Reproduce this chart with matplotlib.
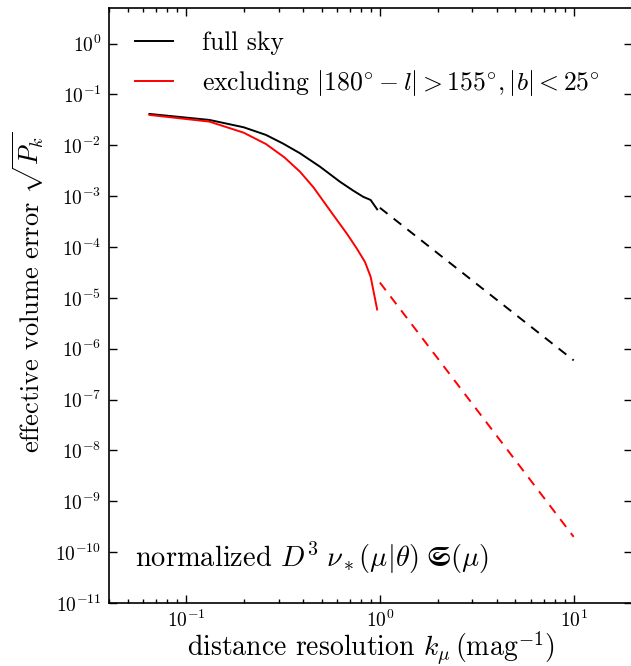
import matplotlib
matplotlib.use("Agg")
import matplotlib.pyplot as plt
import numpy as np

# full sky, solid part (k_mu < 1)
k_full = [0.0647, 0.1318, 0.198, 0.258, 0.315, 0.387, 0.491, 0.622, 0.729,
          0.820, 0.896, 0.968]
p_full = [0.0413, 0.0315, 0.0226, 0.0160, 0.0109, 0.00696, 0.00379, 0.00192,
          0.00128, 0.00097, 0.00084, 0.00055]

# excluding the plane, solid part
k_cut = [0.0647, 0.1318, 0.198, 0.258, 0.321, 0.387, 0.454, 0.575, 0.674,
         0.759, 0.837, 0.896, 0.968]
p_cut = [0.0395, 0.0292, 0.0177, 0.0106, 0.00581, 0.00302, 0.00149, 4.25e-4,
         1.85e-4, 9.4e-5, 5.1e-5, 2.6e-5, 5.9e-6]

# dashed extrapolations (k_mu >= 1)
k_ext = [1.0, 10.0]
p_full_ext = [5.9e-4, 5.9e-7]
p_cut_ext = [2.0e-5, 2.0e-10]

plt.rcParams["font.family"] = "serif"
plt.rcParams["font.serif"] = ["cmr10"]
plt.rcParams["mathtext.fontset"] = "cm"
plt.rcParams["axes.formatter.use_mathtext"] = True
plt.rcParams["axes.unicode_minus"] = False


def main():
    fig = plt.figure(figsize=(6.31, 6.66), dpi=100)
    ax = fig.add_axes([109 / 631, 63 / 666, 523 / 631, 595 / 666])

    ax.plot(k_full, p_full, color="black", lw=1.4, label="full sky")
    ax.plot(k_cut, p_cut, color="red", lw=1.4,
            label=r"excluding $|{180}^{\circ} - l| > {155}^{\circ},"
                  r" |b| < {25}^{\circ}$")
    ax.plot(k_ext, p_full_ext, color="black", lw=1.4, ls=(0, (5, 4)))
    ax.plot(k_ext, p_cut_ext, color="red", lw=1.4, ls=(0, (5, 4)))

    ax.set_xscale("log")
    ax.set_yscale("log")
    ax.set_xlim(0.04, 20)
    ax.set_ylim(1e-11, 5)
    ax.set_yticks([10.0 ** e for e in range(-11, 1)])
    ax.yaxis.set_minor_locator(matplotlib.ticker.NullLocator())

    for s in ax.spines.values():
        s.set_linewidth(1.2)
    ax.tick_params(which="both", direction="in", top=True, right=True,
                   labelsize=14, width=1.0)
    ax.tick_params(which="major", length=5.5, pad=5.5)
    ax.tick_params(which="minor", length=3)
    ax.tick_params(axis="x", which="major", pad=4.5)

    ax.set_xlabel(r"distance resolution $k_\mu\,(\mathrm{mag}^{-1})$",
                  fontsize=20, labelpad=-0.5)
    ax.set_ylabel(r"effective volume error $\sqrt{P_k}$", fontsize=19)
    ax.yaxis.set_label_coords(-0.12, 0.523)

    ax.text(0.05, 0.06,
            r"normalized $D^3\;\nu_*(\mu|\theta)\;\mathfrak{S}(\mu)$",
            transform=ax.transAxes, fontsize=20.5, va="baseline")

    ax.legend(loc="upper left", bbox_to_anchor=(0.004, 1.0), frameon=False,
              fontsize=18.5, handlelength=1.48, handletextpad=1.13,
              labelspacing=0.5, borderaxespad=0.52)

    fig.savefig("out.png", dpi=100)


if __name__ == "__main__":
    main()
